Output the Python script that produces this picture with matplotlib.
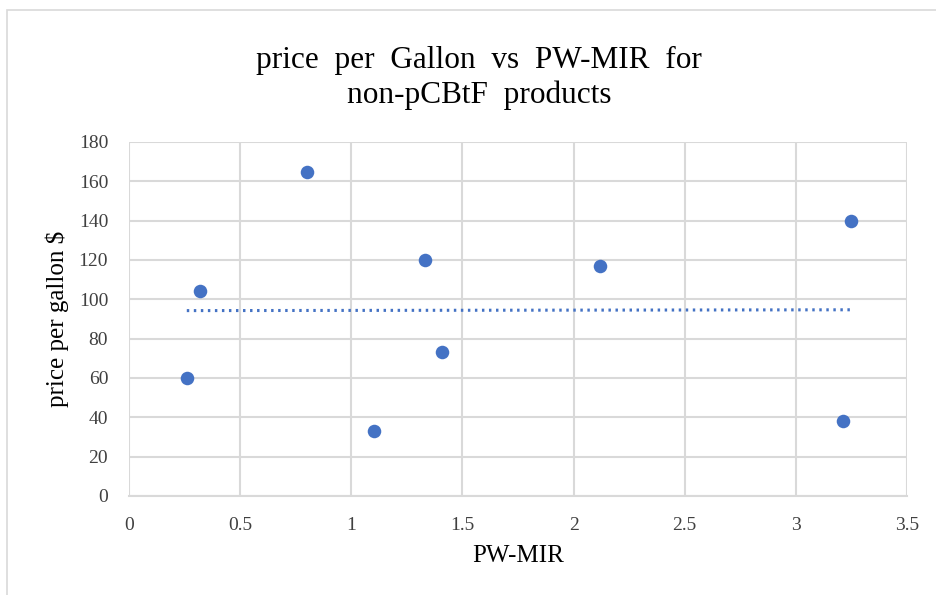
import numpy as np
from matplotlib import pyplot as plt
from matplotlib.patches import Rectangle

pw_mir = [0.26, 0.32, 0.80, 1.10, 1.33, 1.41, 2.12, 3.21, 3.25]
price = [60, 104, 165, 33, 120, 73, 117, 38, 140]

x_ticks = [0, 0.5, 1, 1.5, 2, 2.5, 3, 3.5]
x_tick_labels = ['0', '0.5', '1', '1.5', '2', '2.5', '3', '3.5']
y_ticks = [0, 20, 40, 60, 80, 100, 120, 140, 160, 180]

plt.rcParams['font.family'] = ['Liberation Serif', 'DejaVu Serif']

blue = '#4472C4'
grid_col = '#D9D9D9'

fig = plt.figure(figsize=(9.36, 5.95), dpi=100)
ax = fig.add_axes([129 / 936, 99 / 595, 778 / 936, 354 / 595])

# chart frame like Excel
fig.patches.append(Rectangle((7 / 936, -0.1), 1.2, (585 / 595) + 0.1,
                             transform=fig.transFigure, fill=False,
                             edgecolor='#D9D9D9', linewidth=1.2))

ax.scatter(pw_mir, price, s=95, color=blue, zorder=3, linewidths=0)

# linear trendline
coef = np.polyfit(pw_mir, price, 1)
xs = np.array([min(pw_mir), max(pw_mir)])
ax.plot(xs, np.polyval(coef, xs), color=blue, linewidth=2.2,
        linestyle=(0, (0.8, 1.5)), zorder=2)

ax.set_xlim(0, 3.5)
ax.set_ylim(0, 180)
ax.set_xticks(x_ticks)
ax.set_xticklabels(x_tick_labels)
ax.set_yticks(y_ticks)
ax.tick_params(length=0, labelsize=14, colors='#404040')
ax.tick_params(axis='y', pad=15)
ax.tick_params(axis='x', pad=15)

ax.grid(True, color=grid_col, linewidth=1.5)
ax.set_axisbelow(True)
for side in ['top', 'right', 'left']:
    ax.spines[side].set_visible(False)
ax.spines['bottom'].set_color(grid_col)
ax.spines['bottom'].set_linewidth(1.5)

ax.set_xlabel('PW-MIR', fontsize=18, labelpad=8)
ax.set_ylabel('price per gallon $', fontsize=18, labelpad=7)

fig.text(479 / 936, 1 - 68 / 595, 'price  per  Gallon  vs  PW-MIR  for',
         ha='center', va='baseline', fontsize=22.5)
fig.text(479 / 936, 1 - 103 / 595, 'non-pCBtF  products',
         ha='center', va='baseline', fontsize=22.5)

fig.savefig('out.png', dpi=100)
